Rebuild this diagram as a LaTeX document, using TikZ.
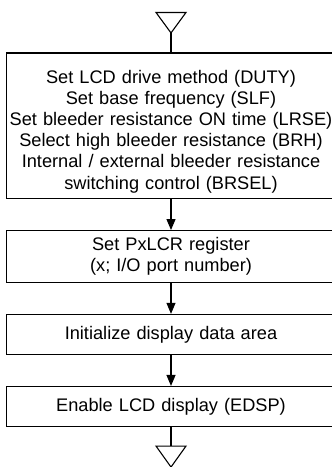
\documentclass[tikz,border=0pt]{standalone}
\usepackage{fontspec}
\setmainfont{Liberation Sans}
\usetikzlibrary{positioning,arrows.meta}

\begin{document}
\begin{tikzpicture}[node distance=31bp, line width=1.1bp,
    block/.style={draw, rectangle, inner sep=0pt, text width=329bp, align=center,
      font=\fontsize{18.2bp}{21.2bp}\selectfont},
    flow/.style={-{Triangle[length=11bp,width=9bp]}}]
    \useasboundingbox (0,0) rectangle (332bp,-467bp);

    \node [block, minimum height=145.5bp, text height=24.3bp] (mode) at (171bp,-125.75bp)
          {Set LCD drive method (DUTY)\\Set base frequency (SLF)\\Set bleeder resistance ON time (LRSE)\\Select high bleeder resistance (BRH)\\Internal / external bleeder resistance\\switching control (BRSEL)};
    \node [block, below=of mode, minimum height=51.7bp] (port)
          {Set PxLCR register\\(x; I/O port number)};
    \node [block, below=of port, minimum height=40bp] (clear) {Initialize display data area};
    \node [block, below=of clear, minimum height=40bp] (enable) {Enable LCD display (EDSP)};

    \coordinate [above=19.5bp of mode] (start);
    \coordinate [below=19bp of enable] (stop);

    \draw (start) -- ++(-15bp,20.5bp) -- ++(30bp,0) -- cycle;
    \draw (stop) ++(-15bp,0) -- ++(30bp,0) -- ++(-15bp,-21bp) -- cycle;

    \draw (start) -- (mode);
    \draw [flow] (mode) -- (port);
    \draw [flow] (port) -- (clear);
    \draw [flow] (clear) -- (enable);
    \draw (enable) -- (stop);
\end{tikzpicture}
\end{document}
